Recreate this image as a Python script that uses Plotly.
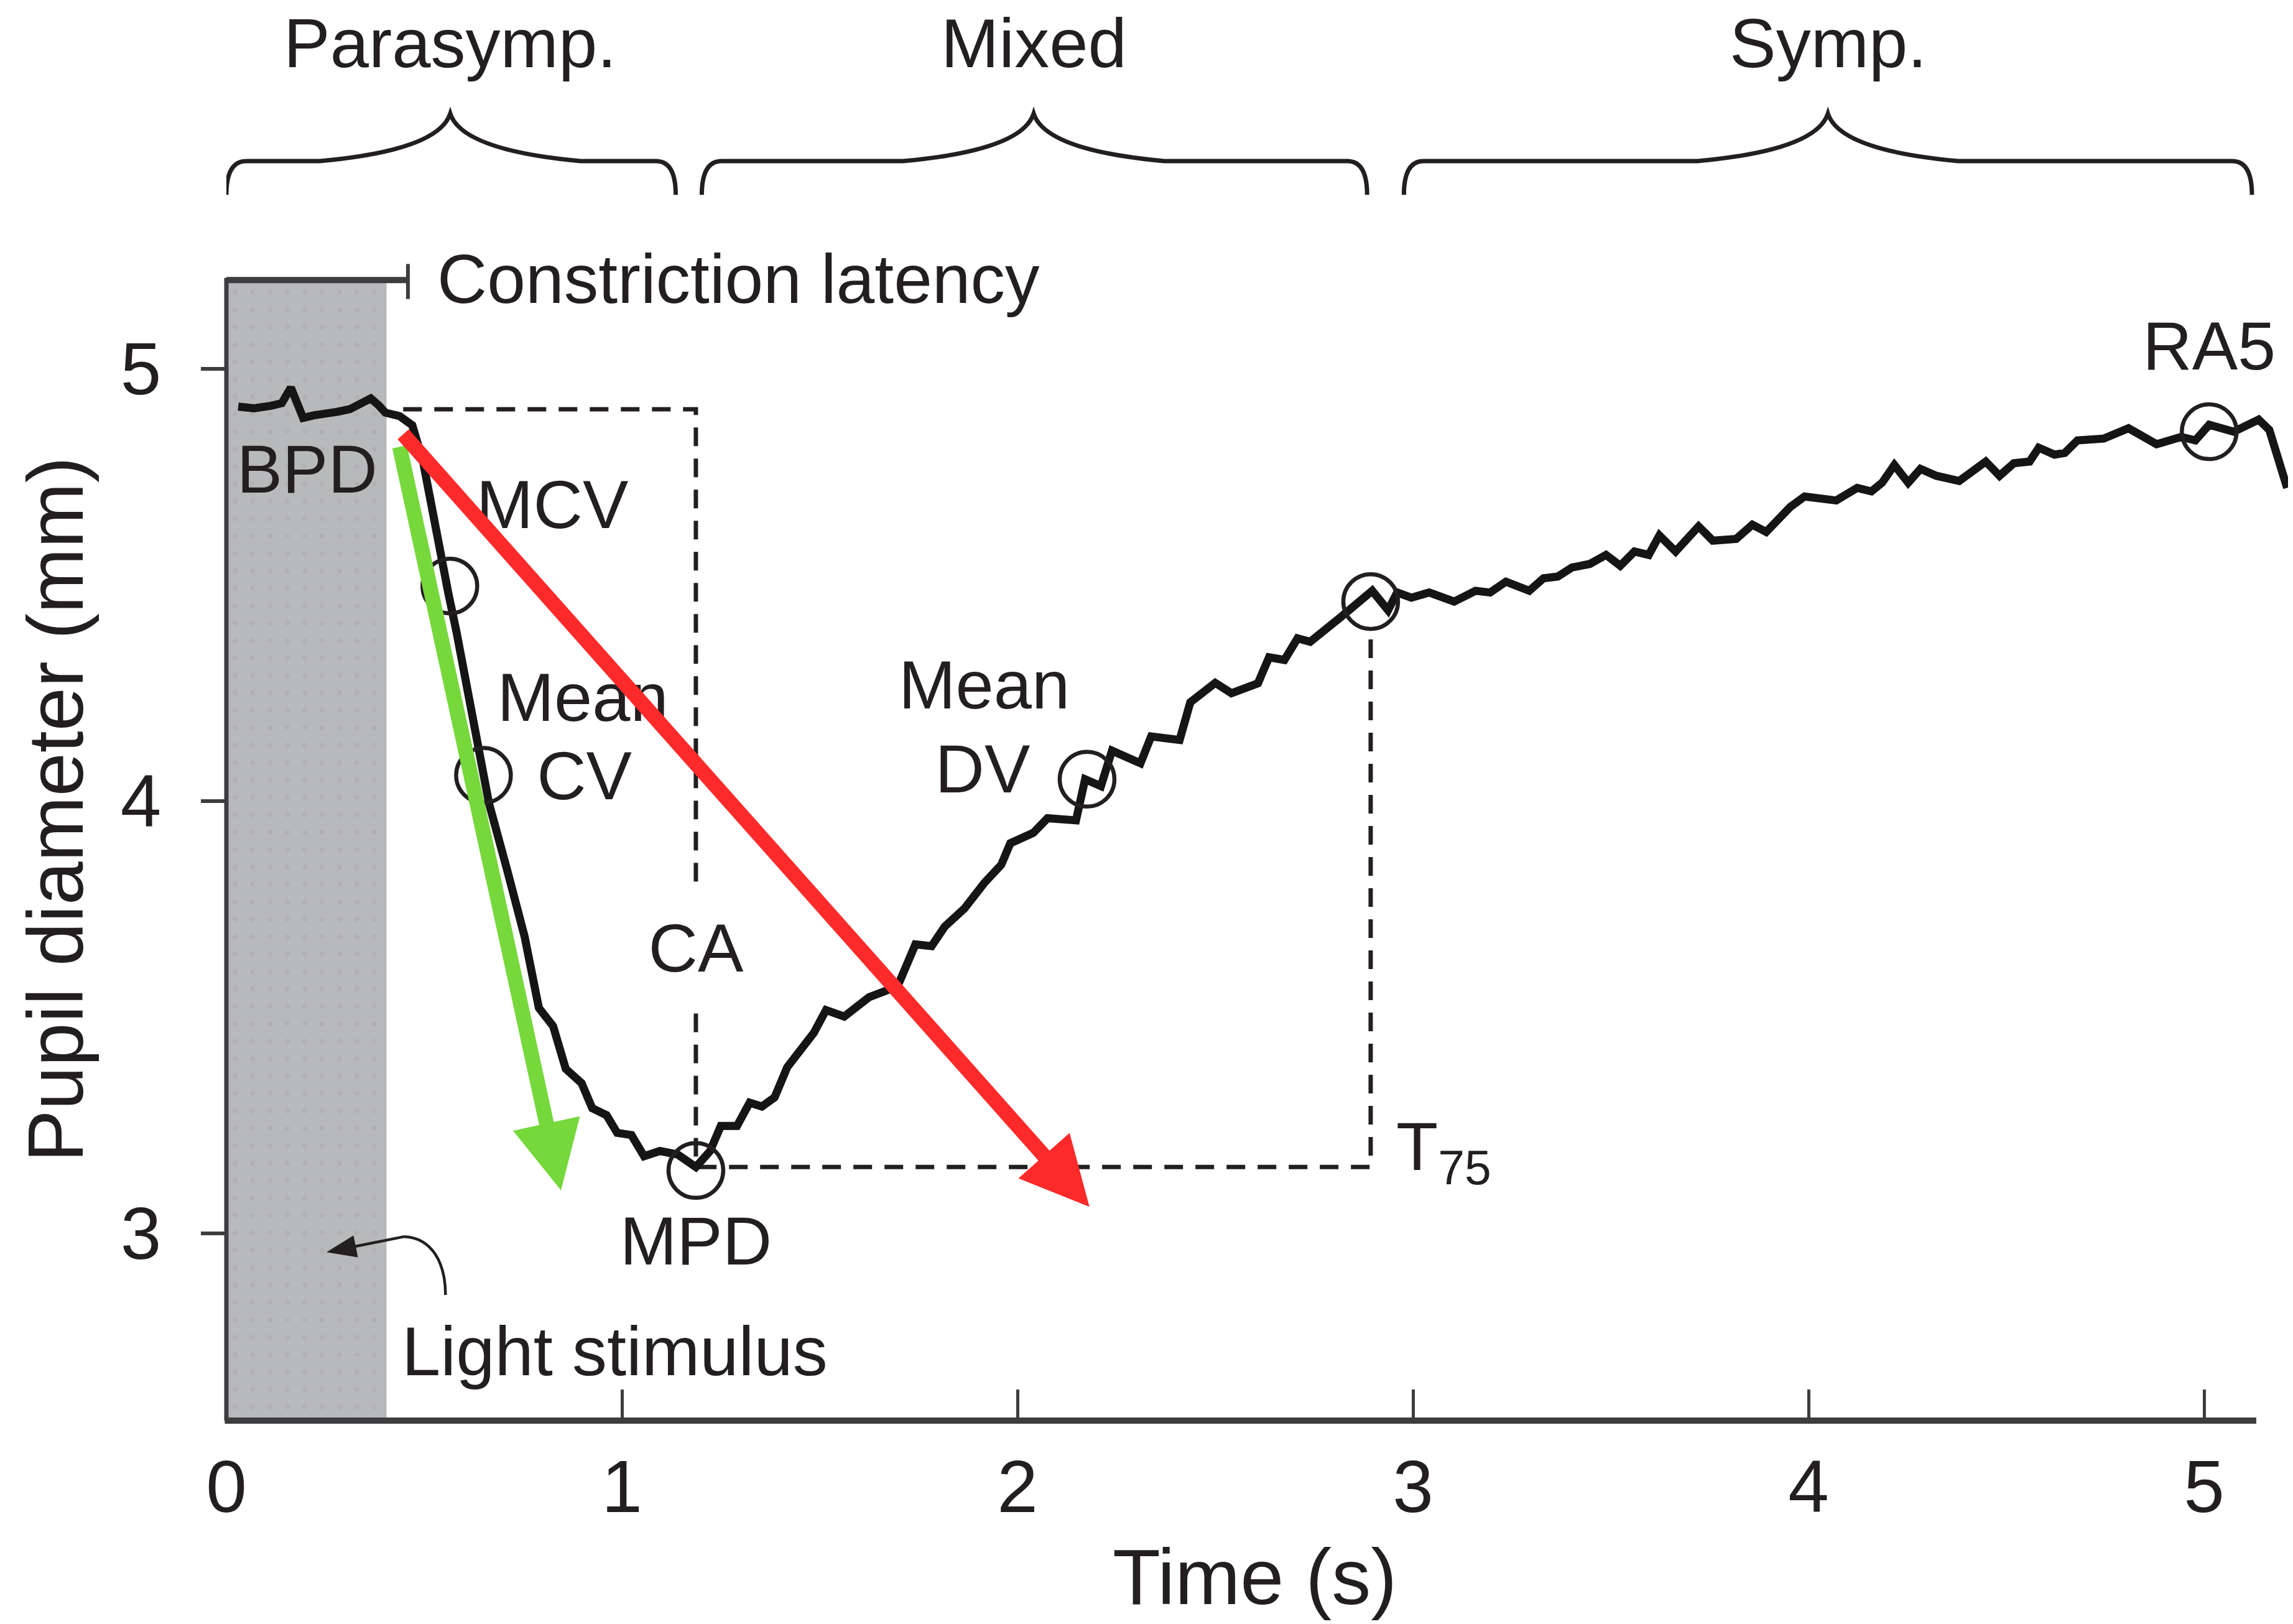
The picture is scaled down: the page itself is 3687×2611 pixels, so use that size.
import plotly.graph_objects as go

# ---------------- data ----------------
time_s = [0.03, 0.07, 0.113, 0.140, 0.163, 0.194, 0.222, 0.248, 0.280, 0.312, 0.340, 0.365, 0.385, 0.402,
          0.438, 0.470, 0.497, 0.520, 0.543, 0.561, 0.582, 0.609, 0.637, 0.664, 0.709, 0.754, 0.790, 0.826,
          0.858, 0.898, 0.925, 0.961, 0.988, 1.024, 1.056, 1.096, 1.141, 1.187, 1.223, 1.250, 1.291, 1.323,
          1.354, 1.386, 1.418, 1.485, 1.516, 1.562, 1.625, 1.697, 1.742, 1.783, 1.816, 1.866, 1.916, 1.959,
          1.982, 2.040, 2.076, 2.148, 2.171, 2.211, 2.239, 2.311, 2.338, 2.410, 2.437, 2.500, 2.541, 2.608,
          2.636, 2.675, 2.708, 2.740, 2.816, 2.843, 2.897, 2.937, 2.960, 2.996, 3.041, 3.104, 3.158, 3.195,
          3.235, 3.294, 3.330, 3.366, 3.402, 3.447, 3.488, 3.524, 3.560, 3.596, 3.623, 3.664, 3.722, 3.758,
          3.817, 3.858, 3.893, 3.954, 3.990, 4.070, 4.123, 4.159, 4.186, 4.217, 4.252, 4.283, 4.323, 4.381,
          4.448, 4.483, 4.519, 4.559, 4.582, 4.622, 4.648, 4.680, 4.746, 4.809, 4.880, 4.942, 4.978, 5.013,
          5.075, 5.138, 5.165, 5.210]
diameter_mm = [4.912, 4.908, 4.914, 4.920, 4.956, 4.886, 4.892, 4.894, 4.900, 4.906, 4.918, 4.931, 4.915, 4.898,
               4.890, 4.869, 4.786, 4.671, 4.555, 4.481, 4.390, 4.258, 4.126, 3.994, 3.843, 3.686, 3.521, 3.479,
               3.380, 3.347, 3.289, 3.273, 3.232, 3.227, 3.178, 3.190, 3.182, 3.153, 3.190, 3.248, 3.248, 3.302,
               3.293, 3.314, 3.384, 3.463, 3.516, 3.501, 3.546, 3.571, 3.668, 3.664, 3.709, 3.751, 3.810, 3.852,
               3.902, 3.926, 3.960, 3.955, 4.050, 4.034, 4.116, 4.087, 4.149, 4.141, 4.228, 4.273, 4.249, 4.272,
               4.332, 4.326, 4.376, 4.368, 4.424, 4.445, 4.486, 4.441, 4.482, 4.470, 4.482, 4.461, 4.486, 4.482,
               4.507, 4.486, 4.515, 4.519, 4.540, 4.548, 4.569, 4.544, 4.577, 4.569, 4.614, 4.577, 4.635, 4.602,
               4.606, 4.639, 4.622, 4.680, 4.704, 4.695, 4.724, 4.716, 4.736, 4.777, 4.736, 4.768, 4.752, 4.740,
               4.785, 4.752, 4.781, 4.785, 4.817, 4.801, 4.805, 4.834, 4.838, 4.862, 4.825, 4.842, 4.834, 4.870,
               4.854, 4.882, 4.858, 4.724]

# circled feature points
feature_t = [0.565, 0.650, 1.187, 2.176, 2.893, 5.013]
feature_d = [4.497, 4.059, 3.145, 4.050, 4.461, 4.854]

# in-plot labels
label_text = ["BPD", "MCV", "Mean", "CV", "Mean", "DV", "CA", "MPD", "RA5"]
label_t = [0.204, 0.824, 0.901, 0.905, 1.916, 1.912, 1.187, 1.187, 5.013]
label_d = [4.753, 4.671, 4.225, 4.043, 4.253, 4.059, 3.645, 2.967, 5.037]

# phases (top braces)
phase_names = ["Parasymp.", "Mixed", "Symp."]
phase_start = [0.0, 1.202, 2.977]
phase_end = [1.136, 2.884, 5.121]
phase_peak = [0.566, 2.041, 4.049]

# key values
stimulus_end = 0.405
latency_end = 0.459
bpd_value = 4.906
mpd_time = 1.187
mpd_value = 3.153
t75_time = 2.893
t75_value = 4.461

# velocity arrows (start time, start diameter, end time, end diameter)
green_arrow = [0.438, 4.819, 0.846, 3.099]
red_arrow = [0.447, 4.848, 2.182, 3.061]
stimulus_pointer = [0.450, 2.992, 0.253, 2.956]

x_ticks = [0, 1, 2, 3, 4, 5]
y_ticks = [3, 4, 5]

# ---------------- layout geometry ----------------
# the page body adds an 8px offset, so the figure is 8px smaller than the window
OFF = 8
W, H = 3687 - OFF, 2611 - OFF
ML, MR, MT = 364 - OFF, 0, 0
PW = W - ML - MR
PH = 2284 - OFF
MB = H - PH
XPX = 636.0          # pixels per second
YPX = 695.0          # pixels per mm
XMAX = PW / XPX
YMAX = 5 + (592.6 - OFF) / YPX
YMIN = YMAX - PH / YPX
X_AXIS_END = 5.132
Y_AXIS_TOP = 5.21

INK = "#231f20"
AXC = "#3d3d3f"
FONT = "Liberation Sans, Arial, Helvetica, sans-serif"

fig = go.Figure()

# light stimulus shaded block
fig.add_trace(go.Scatter(
    x=[0, stimulus_end, stimulus_end, 0, 0],
    y=[YMIN, YMIN, 5.2, 5.2, YMIN],
    mode="lines", fill="toself", line=dict(width=0),
    fillcolor="#b8b9bb",
    fillpattern=dict(shape=".", bgcolor="#b8b9bb", fgcolor="#a9aaac", size=28, solidity=0.07),
    hoverinfo="skip", showlegend=False))

# dashed guide lines
dash = "30px,20px"
fig.add_trace(go.Scatter(
    x=[0.447, mpd_time, mpd_time], y=[bpd_value, bpd_value, 3.794],
    mode="lines", line=dict(color=INK, width=7, dash=dash), hoverinfo="skip", showlegend=False))
fig.add_trace(go.Scatter(
    x=[mpd_time, mpd_time, t75_time, t75_time], y=[3.508, mpd_value, mpd_value, 4.395],
    mode="lines", line=dict(color=INK, width=7, dash=dash), hoverinfo="skip", showlegend=False))

# pupil trace
fig.add_trace(go.Scatter(
    x=time_s, y=diameter_mm, mode="lines",
    line=dict(color="#151515", width=13), hoverinfo="skip", showlegend=False))

# circles
fig.add_trace(go.Scatter(
    x=feature_t, y=feature_d, mode="markers",
    marker=dict(symbol="circle-open", size=88, color=INK, line=dict(width=6.5, color=INK)),
    hoverinfo="skip", showlegend=False))

# labels (as a text trace so arrows can sit on top)
fig.add_trace(go.Scatter(
    x=label_t, y=label_d, mode="text", text=label_text, textposition="middle center",
    textfont=dict(family=FONT, size=110, color=INK), hoverinfo="skip", showlegend=False))


def arrow_polygon(a, shaft_w=24.0, head_w=110.0, head_len=110.0):
    x0, y0, x1, y1 = a
    X0, Y0, X1, Y1 = x0 * XPX, y0 * YPX, x1 * XPX, y1 * YPX
    dx, dy = X1 - X0, Y1 - Y0
    L = (dx * dx + dy * dy) ** 0.5
    ux, uy = dx / L, dy / L
    nx, ny = -uy, ux
    bx, by = X1 - ux * head_len, Y1 - uy * head_len
    s, h = shaft_w / 2, head_w / 2
    pts = [(X0 + nx * s, Y0 + ny * s), (bx + nx * s, by + ny * s), (bx + nx * h, by + ny * h),
           (X1, Y1), (bx - nx * h, by - ny * h), (bx - nx * s, by - ny * s), (X0 - nx * s, Y0 - ny * s)]
    pts.append(pts[0])
    return [p[0] / XPX for p in pts], [p[1] / YPX for p in pts]


for arr, col, sw, hw, hl in [(green_arrow, "#76d83b", 24, 110, 110),
                             (red_arrow, "#fc2a2a", 24, 110, 110),
                             (stimulus_pointer, INK, 4.5, 36, 48)]:
    px_, py_ = arrow_polygon(arr, sw, hw, hl)
    fig.add_trace(go.Scatter(x=px_, y=py_, mode="lines", fill="toself", fillcolor=col,
                             line=dict(width=0, color=col), hoverinfo="skip", showlegend=False))

shapes = []
# axis lines (paper coordinates so they are not clipped)
shapes.append(dict(type="line", xref="paper", yref="paper", x0=-0.0008, x1=X_AXIS_END / XMAX, y0=0, y1=0,
                   line=dict(color=AXC, width=10)))
shapes.append(dict(type="line", xref="paper", yref="paper", x0=0, x1=0, y0=0,
                   y1=(Y_AXIS_TOP - YMIN) / (YMAX - YMIN), line=dict(color=AXC, width=7)))
# constriction latency bracket
shapes.append(dict(type="line", xref="x", yref="y", x0=0, x1=latency_end, y0=5.205, y1=5.205,
                   line=dict(color=AXC, width=10)))
shapes.append(dict(type="line", xref="x", yref="y", x0=latency_end, x1=latency_end, y0=5.161, y1=5.242,
                   line=dict(color=AXC, width=6)))

# braces
y_tip, y_flat, y_peak = 5.402, 5.48, 5.59
for a, b, m in zip(phase_start, phase_end, phase_peak):
    r = 0.05
    path = (f"M {a},{y_tip} Q {a},{y_flat} {a + r},{y_flat} "
            f"L {m - 0.33},{y_flat} Q {m - 0.03},{y_flat + 0.025} {m},{y_peak} "
            f"Q {m + 0.03},{y_flat + 0.025} {m + 0.33},{y_flat} "
            f"L {b - r},{y_flat} Q {b},{y_flat} {b},{y_tip}")
    shapes.append(dict(type="path", xref="x", yref="y", path=path, line=dict(color=INK, width=7)))

# small curved line of the light-stimulus pointer
shapes.append(dict(type="path", xref="x", yref="y",
                   path="M 0.554,2.857 C 0.554,2.931 0.520,2.989 0.450,2.992",
                   line=dict(color=INK, width=4.5)))

annotations = []
for name, m in zip(phase_names, phase_peak):
    annotations.append(dict(x=m, y=5.753, xref="x", yref="y", text=name, showarrow=False,
                            font=dict(family=FONT, size=112, color=INK), xanchor="center", yanchor="middle"))

annotations.append(dict(x=0.530, y=5.207, xref="x", yref="y", text="Constriction latency", showarrow=False,
                        font=dict(family=FONT, size=111, color=INK), xanchor="left", yanchor="middle"))
annotations.append(dict(x=0.440, y=2.727, xref="x", yref="y", text="Light stimulus", showarrow=False,
                        font=dict(family=FONT, size=112, color=INK), xanchor="left", yanchor="middle"))
annotations.append(dict(x=2.955, y=3.19, xref="x", yref="y", text="T<sub>75</sub>", showarrow=False,
                        font=dict(family=FONT, size=110, color=INK), xanchor="left", yanchor="middle"))

# axis titles
annotations.append(dict(x=(89 - OFF - ML) / PW, y=3.98, xref="paper", yref="y", text="Pupil diameter (mm)",
                        showarrow=False, textangle=-90, font=dict(family=FONT, size=126, color=INK),
                        xanchor="center", yanchor="middle"))
annotations.append(dict(x=2.6, y=-(2535 - OFF - PH) / PH, xref="x", yref="paper", text="Time (s)",
                        showarrow=False, font=dict(family=FONT, size=126, color=INK),
                        xanchor="center", yanchor="middle"))

fig.update_layout(
    width=W, height=H,
    margin=dict(l=ML, r=MR, t=MT, b=MB, pad=0),
    paper_bgcolor="white", plot_bgcolor="white",
    shapes=shapes, annotations=annotations,
    showlegend=False,
    font=dict(family=FONT, color=INK),
    xaxis=dict(range=[0, XMAX], tickvals=x_ticks, ticks="inside", ticklen=50, tickwidth=5,
               tickcolor=AXC, showline=False, showgrid=False, zeroline=False,
               tickfont=dict(family=FONT, size=118, color=INK), ticklabelstandoff=28, fixedrange=True),
    yaxis=dict(range=[YMIN, YMAX], tickvals=y_ticks, ticks="outside", ticklen=40, tickwidth=6,
               tickcolor=AXC, showline=False, showgrid=False, zeroline=False,
               tickfont=dict(family=FONT, size=118, color=INK), ticklabelstandoff=40, fixedrange=True),
)

fig.write_html("out.html")
